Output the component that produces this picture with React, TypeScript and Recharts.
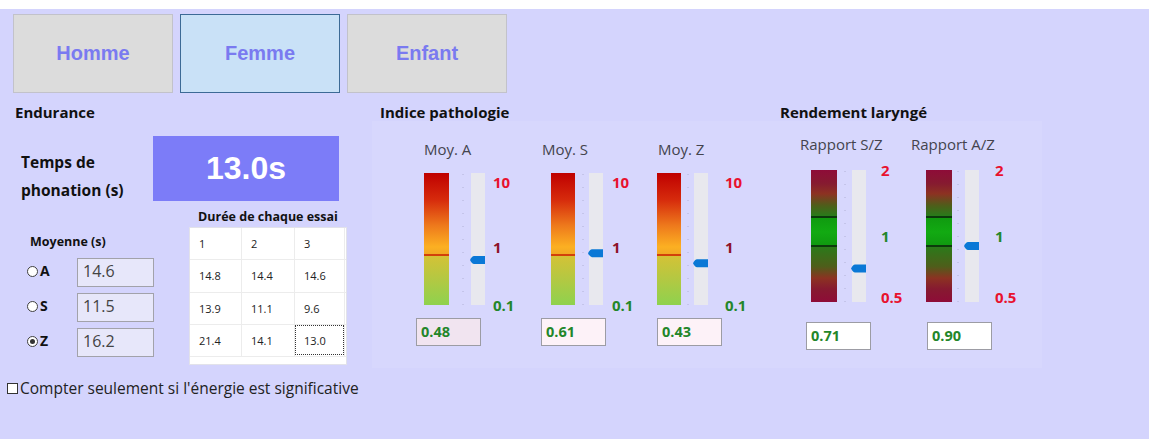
import React from "react";
import { ComposedChart, XAxis, YAxis, ReferenceArea, ReferenceLine, Scatter } from "recharts";

const phonationTime = 13.0;
const meanLabels = ["A", "S", "Z"];
const meanValues = [14.6, 11.5, 16.2];
const selectedMean = "Z";
const trialHeaders = ["1", "2", "3"];
const trialsA = [14.8, 14.4, 14.6];
const trialsS = [13.9, 11.1, 9.6];
const trialsZ = [21.4, 14.1, 13.0];

const indiceNames = ["Moy. A", "Moy. S", "Moy. Z"];
const indiceValues = [0.48, 0.61, 0.43];
const indiceDomain = [0.1, 10];
const indiceTicks = [0.1, 1, 10];

const rendementNames = ["Rapport S/Z", "Rapport A/Z"];
const rendementValues = [0.71, 0.9];
const rendementDomain = [0.5, 2];
const rendementTicks = [0.5, 1, 2];

const genders = ["Homme", "Femme", "Enfant"];
const activeGender = "Femme";

const UI = '"Open Sans", "Noto Sans", sans-serif';
const BG = "#d4d4fd";
const GREEN_TXT = "#23862a";

const indiceStops: [number, string][] = [
  [0, "#bf0000"],
  [0.2, "#d62a0c"],
  [0.4, "#ee7a1c"],
  [0.56, "#fcb022"],
  [0.61, "#f2a824"],
  [0.61, "#d2400a"],
  [0.628, "#d2400a"],
  [0.628, "#d4c236"],
  [0.8, "#b4c842"],
  [1, "#8ed24e"],
];

const rendementStops: [number, string][] = [
  [0, "#8e0c38"],
  [0.1, "#861a30"],
  [0.18, "#8c3222"],
  [0.27, "#4e5e1a"],
  [0.345, "#2a7a1a"],
  [0.345, "#0c3a0c"],
  [0.36, "#0c3a0c"],
  [0.36, "#109a10"],
  [0.47, "#12aa12"],
  [0.565, "#109a10"],
  [0.565, "#0c3a0c"],
  [0.58, "#0c3a0c"],
  [0.58, "#2a7a1a"],
  [0.73, "#4e5e1a"],
  [0.82, "#8c3222"],
  [0.9, "#861a30"],
  [1, "#8e0c38"],
];

type GaugeLayout = { band: number; bandEnd: number; track: number; right: number; label: number; dots: number; title: number; box: number };

const indiceLayout: GaugeLayout[] = [
  { band: 424, bandEnd: 449, track: 471, right: 485, label: 493, dots: 463, title: 424, box: 416 },
  { band: 551, bandEnd: 575, track: 589, right: 603, label: 612, dots: 583, title: 542, box: 541 },
  { band: 657, bandEnd: 681, track: 694, right: 708, label: 725, dots: 688, title: 658, box: 657 },
];
const rendementLayout: GaugeLayout[] = [
  { band: 811, bandEnd: 837, track: 852, right: 866, label: 881, dots: 845, title: 800, box: 806 },
  { band: 926, bandEnd: 952, track: 965, right: 979, label: 995, dots: 958, title: 911, box: 927 },
];

const indiceTickColors = ["#23862a", "#8e1228", "#e8122e"];
const indiceTickDy = [0, 8, 9];
const rendementTickColors = ["#e8122e", "#23862a", "#e8122e"];
const rendementTickDy = [-5, 0, 0];

function Marker(props: any) {
  const { cx, cy } = props;
  if (cx == null || cy == null) return null;
  const d = `M${cx} ${cy - 4} L${cx - 11} ${cy - 4} Q${cx - 13} ${cy - 4} ${cx - 15} ${cy} Q${cx - 13} ${cy + 4} ${cx - 11} ${cy + 4} L${cx} ${cy + 4} Z`;
  return <path d={d} fill="#0a78d6" />;
}

function Gauge({ value, domain, ticks, colors, dys, stops, lay, plotTop, gradId }: any) {
  const W = lay.right - lay.band;
  const axisW = lay.label - lay.right + 34;
  const mTop = 12;
  const mBottom = 12;
  const plotH = 132;
  const data = [{ x: W, y: value }];
  const tick = (p: any) => {
    const i = ticks.indexOf(p.payload.value);
    return (
      <text x={p.x} y={p.y + dys[i]} dominantBaseline="central" textAnchor="start" fill={colors[i]}
        fontFamily={UI} fontWeight={700} fontSize={15}>
        {String(p.payload.value)}
      </text>
    );
  };
  return (
    <div style={{ position: "absolute", left: lay.band, top: plotTop - mTop }}>
      <ComposedChart width={W + axisW} height={plotH + mTop + mBottom} data={data}
        margin={{ top: mTop, bottom: mBottom, left: 0, right: 0 }} style={{ overflow: "visible" }}>
        <defs>
          <linearGradient id={gradId} x1="0" y1="0" x2="0" y2="1">
            {stops.map(([o, c]: [number, string], k: number) => (
              <stop key={k} offset={o} stopColor={c} />
            ))}
          </linearGradient>
        </defs>
        <XAxis type="number" dataKey="x" domain={[0, W]} hide allowDataOverflow />
        <YAxis type="number" dataKey="y" scale="log" domain={domain} ticks={ticks} interval={0}
          orientation="right" width={axisW} axisLine={false} tickLine={false} tickSize={0}
          tickMargin={lay.label - lay.right} tick={tick} allowDataOverflow />
        <ReferenceArea x1={0} x2={lay.bandEnd - lay.band} y1={domain[0]} y2={domain[1]}
          fill={`url(#${gradId})`} fillOpacity={1} stroke="none" />
        <ReferenceLine x={lay.dots - lay.band} stroke="#b2b2d6" strokeDasharray="1 12" />
        <ReferenceArea x1={lay.track - lay.band} x2={W} y1={domain[0]} y2={domain[1]}
          fill="#e8e8ee" fillOpacity={1} stroke="none" />
        <Scatter data={data} dataKey="y" shape={Marker} isAnimationActive={false} />
      </ComposedChart>
    </div>
  );
}

const abs = (left: number, top: number, extra: any = {}) => ({ position: "absolute" as const, left, top, ...extra });

function ValueBox({ left, top, value, bg }: any) {
  return (
    <div style={abs(left, top, {
      width: 65, height: 28, background: bg, border: "1px solid #9c9ca4", boxSizing: "border-box",
      fontFamily: UI, fontWeight: 700, fontSize: 14.5, color: GREEN_TXT, lineHeight: "26px", paddingLeft: 4,
    })}>
      {value.toFixed(2)}
    </div>
  );
}

function Radio({ left, top, checked }: any) {
  return (
    <div style={abs(left, top, { width: 11, height: 11, borderRadius: "50%", border: "1px solid #404040", background: "#fff", boxSizing: "border-box" })}>
      {checked && <div style={abs(2, 2, { width: 5, height: 5, borderRadius: "50%", background: "#333" })} />}
    </div>
  );
}

export default function App() {
  const trialRows = [trialsA, trialsS, trialsZ];
  const colX = [189, 241, 294, 344];
  const rowY = [227, 259, 292, 324, 356];
  const meanTop = [258, 293, 328];
  const title = { fontFamily: UI, fontWeight: 700, fontSize: 15, color: "#111" };
  return (
    <div style={{ position: "fixed", left: 0, top: 0, width: 1149, height: 439, background: "#fff", overflow: "hidden" }}>
      <div style={abs(0, 9, { width: 1149, height: 430, background: BG })} />
      <div style={abs(372, 121, { width: 670, height: 247, background: "#d7d7fd" })} />

      {genders.map((g, i) => {
        const active = g === activeGender;
        return (
          <div key={g} style={abs(13 + i * 167, 14, {
            width: 160, height: 79, boxSizing: "border-box",
            background: active ? "#c9e1f7" : "#dcdcdc",
            border: active ? "1px solid #3c6a96" : "1px solid #c2c2ca",
            display: "flex", alignItems: "center", justifyContent: "center",
            fontFamily: '"Liberation Sans", Arial, sans-serif', fontWeight: 700, fontSize: 20, color: "#7a7af0",
          })}>
            {g}
          </div>
        );
      })}

      <div style={abs(15, 102, title)}>Endurance</div>
      <div style={abs(380, 102, title)}>Indice pathologie</div>
      <div style={abs(780, 102, title)}>Rendement laryngé</div>

      <div style={abs(21, 148, { fontFamily: UI, fontWeight: 700, fontSize: 15.5, color: "#111", lineHeight: "28px" })}>
        Temps de<br />phonation (s)
      </div>
      <div style={abs(153, 136, {
        width: 186, height: 65, background: "#7c7cf8", color: "#fff", display: "flex", alignItems: "center",
        justifyContent: "center", fontFamily: '"Liberation Sans", Arial, sans-serif', fontWeight: 700, fontSize: 32,
      })}>
        {phonationTime.toFixed(1)}s
      </div>

      <div style={abs(186, 208, { width: 164, textAlign: "center", fontFamily: UI, fontWeight: 700, fontSize: 12.5, color: "#111" })}>
        Durée de chaque essai
      </div>
      <div style={abs(189, 227, { width: 158, height: 138, background: "#fff", border: "1px solid #e2e2ea", boxSizing: "border-box" })} />
      {colX.slice(1).map((x) => (
        <div key={"c" + x} style={abs(x, 228, { width: 1, height: 128, background: "#ececec" })} />
      ))}
      {rowY.slice(1).map((y) => (
        <div key={"r" + y} style={abs(190, y, { width: 156, height: 1, background: "#ececec" })} />
      ))}
      {[trialHeaders, ...trialRows.map((r) => r.map((v) => v.toFixed(1)))].map((row, ri) =>
        row.map((txt, ci) => (
          <div key={ri + "-" + ci} style={abs(colX[ci] + 10, rowY[ri], {
            height: rowY[ri + 1] - rowY[ri], display: "flex", alignItems: "center",
            fontFamily: UI, fontSize: 11, color: "#222",
          })}>
            {txt}
          </div>
        ))
      )}
      <div style={abs(295, 325, { width: 49, height: 30, border: "1px dotted #333", boxSizing: "border-box" })} />

      <div style={abs(30, 233, { fontFamily: UI, fontWeight: 700, fontSize: 12.5, color: "#111" })}>Moyenne (s)</div>
      {meanLabels.map((m, i) => (
        <React.Fragment key={m}>
          <Radio left={27} top={meanTop[i] + 8} checked={m === selectedMean} />
          <div style={abs(40, meanTop[i] + 3, { fontFamily: UI, fontWeight: 700, fontSize: 14, color: "#111" })}>{m}</div>
          <div style={abs(77, meanTop[i], {
            width: 77, height: 29, background: "#e7e7fa", border: "1px solid #a2a2aa", boxSizing: "border-box",
            fontFamily: UI, fontSize: 16, color: "#444", lineHeight: "25px", paddingLeft: 5,
          })}>
            {meanValues[i].toFixed(1)}
          </div>
        </React.Fragment>
      ))}

      <div style={abs(7, 383, { width: 11, height: 11, border: "1px solid #333", background: "#fff", boxSizing: "border-box" })} />
      <div style={abs(20, 377, { fontFamily: UI, fontSize: 15.5, color: "#222" })}>
        Compter seulement si l'énergie est significative
      </div>

      {indiceNames.map((n, i) => (
        <React.Fragment key={n}>
          <div style={abs(indiceLayout[i].title, 139, { fontFamily: UI, fontSize: 15, color: "#44444e" })}>{n}</div>
          <Gauge value={indiceValues[i]} domain={indiceDomain} ticks={indiceTicks} colors={indiceTickColors}
            dys={indiceTickDy} stops={indiceStops} lay={indiceLayout[i]} plotTop={173} gradId={"gi" + i} />
          <ValueBox left={indiceLayout[i].box} top={318} value={indiceValues[i]} bg={i === 0 ? "#f1e4f0" : "#fdf2f8"} />
        </React.Fragment>
      ))}

      {rendementNames.map((n, i) => (
        <React.Fragment key={n}>
          <div style={abs(rendementLayout[i].title, 134, { fontFamily: UI, fontSize: 15, color: "#44444e" })}>{n}</div>
          <Gauge value={rendementValues[i]} domain={rendementDomain} ticks={rendementTicks} colors={rendementTickColors}
            dys={rendementTickDy} stops={rendementStops} lay={rendementLayout[i]} plotTop={170} gradId={"gr" + i} />
          <ValueBox left={rendementLayout[i].box} top={322} value={rendementValues[i]} bg="#fff" />
        </React.Fragment>
      ))}
    </div>
  );
}
